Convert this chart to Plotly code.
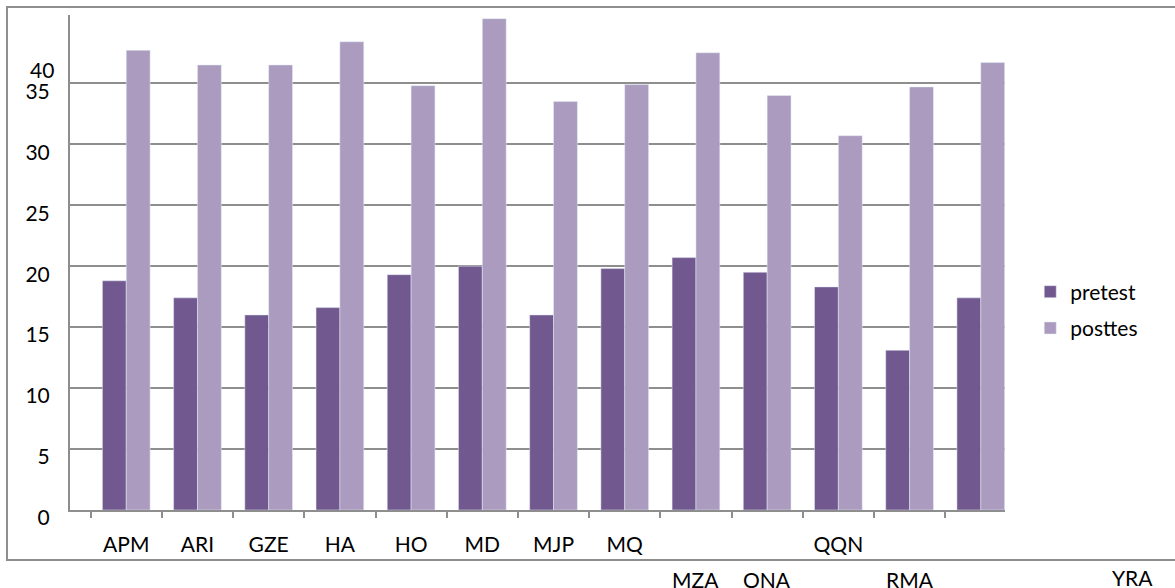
import plotly.graph_objects as go

# Participants and scores
participants = ["APM", "ARI", "GZE", "HA", "HO", "MD", "MJP", "MQ",
                "MZA", "ONA", "QQN", "RMA", "YRA"]
pretest = [18.8, 17.4, 16.0, 16.6, 19.3, 20.0, 16.0, 19.8,
           20.7, 19.5, 18.3, 13.1, 17.4]
posttest = [37.7, 36.5, 36.5, 38.4, 34.8, 40.3, 33.5, 34.9,
            37.5, 34.0, 30.7, 34.7, 36.7]

# Labels shown on the axis row; the rest sit on a lower row
axis_labels = ["APM", "ARI", "GZE", "HA", "HO", "MD", "MJP", "MQ",
               "", "", "QQN", "", ""]
lower_labels = ["MZA", "ONA", "RMA"]
y_ticks = [0, 5, 10, 15, 20, 25, 30, 35]

PRE_COLOR = "#71588F"
POST_COLOR = "#AA9BBF"
GRID = "#8E8E8E"
FONT = "Lato, 'Open Sans', sans-serif"

fig = go.Figure()
fig.add_trace(go.Bar(x=participants, y=pretest, name="pretest",
                     marker_color=PRE_COLOR, legendgroup="a"))
fig.add_trace(go.Bar(x=participants, y=posttest, name="posttes",
                     marker_color=POST_COLOR, legendgroup="b"))

fig.update_layout(
    width=1175, height=588,
    margin=dict(l=70, r=170, t=15, b=78),
    paper_bgcolor="white", plot_bgcolor="white",
    font=dict(family=FONT, size=21, color="#000000"),
    barmode="group", bargap=0.33, bargroupgap=0,
    showlegend=True,
    legend=dict(x=1.027, y=0.404, xanchor="left", yanchor="middle",
                font=dict(size=21), tracegroupgap=6,
                traceorder="grouped", bgcolor="rgba(0,0,0,0)"),
)

fig.update_xaxes(
    type="category", range=[-0.79, 12.34],
    tickmode="array", tickvals=participants, ticktext=axis_labels,
    showline=True, linecolor=GRID, linewidth=2,
    ticks="outside", ticklen=6, tickcolor=GRID, tickwidth=2,
    tickson="boundaries", showgrid=False,
    ticklabelstandoff=15,
)
fig.update_yaxes(
    range=[0, 40.6], tickmode="array", tickvals=y_ticks,
    ticktext=[str(v) for v in y_ticks],
    showline=True, linecolor=GRID, linewidth=2,
    showgrid=True, gridcolor=GRID, gridwidth=2,
    zeroline=False, ticks="", ticklabelstandoff=14,
    ticklabelshift=8,
)

# Stray "40" label above 35
fig.add_annotation(x=0, xref="paper", y=36.1, yref="y", text="40",
                   showarrow=False, xanchor="right", xshift=-14,
                   font=dict(size=21))

# Lower row of category labels
for name in lower_labels:
    fig.add_annotation(x=name, xref="x", y=-0.141, yref="paper", text=name,
                       showarrow=False, yanchor="middle", font=dict(size=21))
fig.add_annotation(x=1.16, xref="paper", y=-0.137, yref="paper", text="YRA",
                   showarrow=False, yanchor="middle", font=dict(size=21))

# Outer chart frame
fig.add_shape(type="rect", xref="paper", yref="paper",
              x0=-0.0674, x1=1.25, y0=-0.101, y1=1.016,
              line=dict(color=GRID, width=2), fillcolor="rgba(0,0,0,0)",
              layer="below")

fig.write_html("out.html")
